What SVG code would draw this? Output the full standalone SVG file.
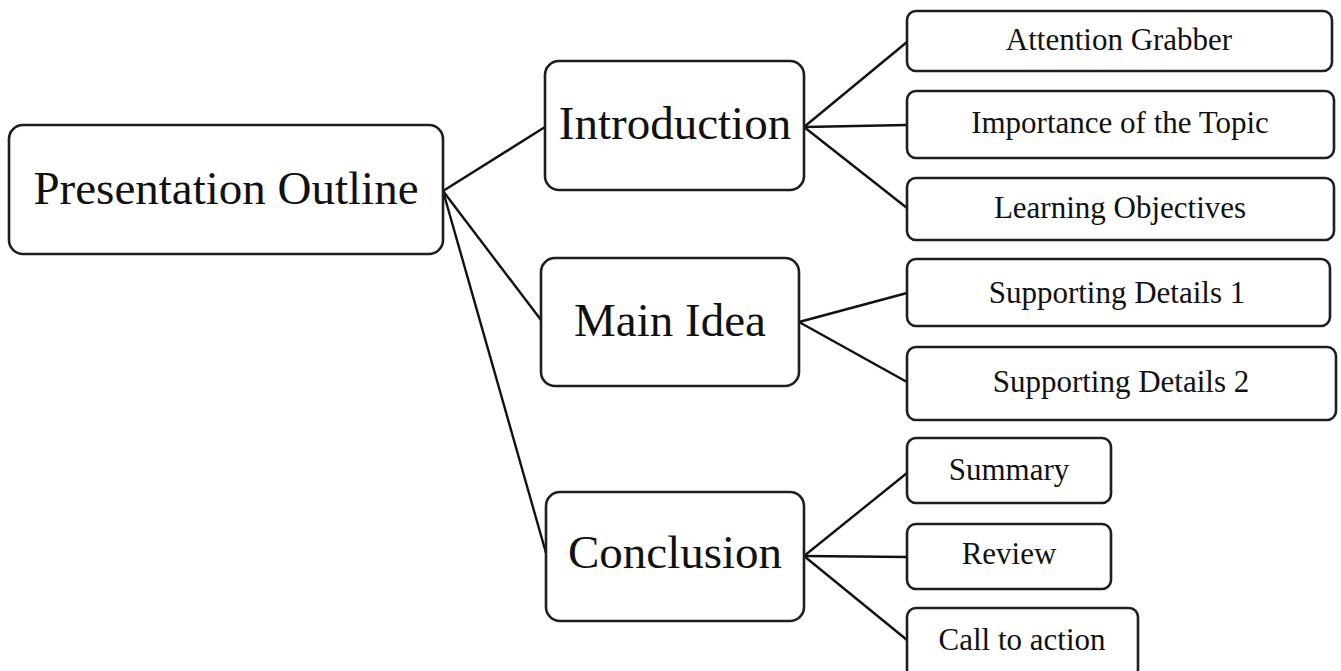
<svg xmlns="http://www.w3.org/2000/svg" width="1341" height="671" viewBox="0 0 1341 671">
<style>
.big{fill:#fff;stroke:#1e1e1e;stroke-width:2.6}
.small{fill:#fff;stroke:#1e1e1e;stroke-width:2.6}
.t{font-family:"Liberation Serif","Times New Roman",serif;fill:#111;text-anchor:middle}
.tb{font-size:47px}
.ts{font-size:31px}
.c line{stroke:#111;stroke-width:2.4}
</style>
<rect width="1341" height="671" fill="#fff"/>
<g id="connectors" class="c">
<line x1="443" y1="191" x2="545" y2="127"/>
<line x1="443" y1="191" x2="541" y2="320"/>
<line x1="443" y1="191" x2="546" y2="553"/>
<line x1="804" y1="127" x2="907" y2="42"/>
<line x1="804" y1="127" x2="907" y2="125"/>
<line x1="804" y1="127" x2="907" y2="208"/>
<line x1="799" y1="322" x2="907" y2="293"/>
<line x1="799" y1="322" x2="907" y2="382"/>
<line x1="804" y1="556" x2="907" y2="473"/>
<line x1="804" y1="556" x2="907" y2="557"/>
<line x1="804" y1="556" x2="907" y2="640"/>
</g>
<g id="presentation-outline">
<rect class="big" x="9" y="125" width="434" height="129" rx="14"/>
<text class="t tb" x="226" y="204">Presentation Outline</text>
</g>
<g id="introduction">
<rect class="big" x="545" y="61" width="259" height="129" rx="14"/>
<text class="t tb" x="675" y="139">Introduction</text>
</g>
<g id="main-idea">
<rect class="big" x="541" y="258" width="258" height="128" rx="14"/>
<text class="t tb" x="670" y="336">Main Idea</text>
</g>
<g id="conclusion">
<rect class="big" x="546" y="492" width="258" height="129" rx="14"/>
<text class="t tb" x="675" y="568">Conclusion</text>
</g>
<g id="attention-grabber">
<rect class="small" x="907" y="11" width="425" height="60" rx="9"/>
<text class="t ts" x="1119" y="50">Attention Grabber</text>
</g>
<g id="importance-of-the-topic">
<rect class="small" x="907" y="91" width="427" height="67" rx="9"/>
<text class="t ts" x="1120" y="133">Importance of the Topic</text>
</g>
<g id="learning-objectives">
<rect class="small" x="907" y="178" width="427" height="62" rx="9"/>
<text class="t ts" x="1120" y="218">Learning Objectives</text>
</g>
<g id="supporting-details-1">
<rect class="small" x="907" y="259" width="423" height="67" rx="9"/>
<text class="t ts" x="1117" y="303">Supporting Details 1</text>
</g>
<g id="supporting-details-2">
<rect class="small" x="907" y="347" width="429" height="73" rx="9"/>
<text class="t ts" x="1121" y="392">Supporting Details 2</text>
</g>
<g id="summary">
<rect class="small" x="907" y="438" width="204" height="65" rx="9"/>
<text class="t ts" x="1009" y="480">Summary</text>
</g>
<g id="review">
<rect class="small" x="907" y="524" width="204" height="65" rx="9"/>
<text class="t ts" x="1009" y="564">Review</text>
</g>
<g id="call-to-action">
<rect class="small" x="907" y="608" width="231" height="70" rx="9"/>
<text class="t ts" x="1022" y="650">Call to action</text>
</g>
</svg>
